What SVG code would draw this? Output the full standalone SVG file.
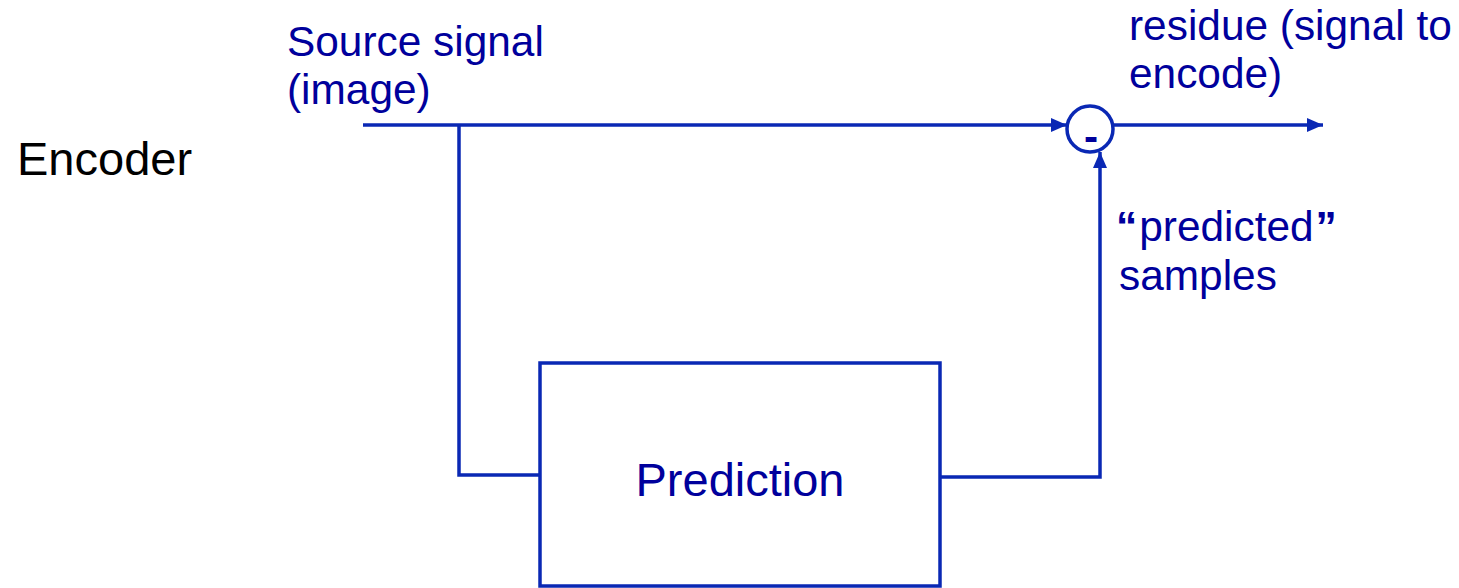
<svg xmlns="http://www.w3.org/2000/svg" width="1459" height="588" viewBox="0 0 1459 588">
<style>
.ln{fill:none;stroke:#0a28b4;stroke-width:3.5}
.lbl{font-family:"Liberation Sans",Arial,sans-serif;font-size:42.4px;fill:#00009c}
.big{font-family:"Liberation Sans",Arial,sans-serif;font-size:47px;fill:#00009c}
</style>
<defs>
<marker id="arr" markerUnits="userSpaceOnUse" markerWidth="18" markerHeight="16" refX="16" refY="7" orient="auto">
<path d="M0,0 L16,7 L0,14 Z" fill="#0a28b4"/>
</marker>
</defs>
<rect width="1459" height="588" fill="#ffffff"/>
<g id="encoder-label">
<text x="17" y="175" font-family="Liberation Sans,Arial,sans-serif" font-size="47" fill="#000000">Encoder</text>
</g>
<g id="source-label">
<text class="lbl" x="287" y="56">Source signal</text>
<text class="lbl" x="287" y="104">(image)</text>
</g>
<g id="residue-label">
<text class="lbl" x="1129" y="40">residue (signal to</text>
<text class="lbl" x="1129" y="88">encode)</text>
</g>
<g id="predicted-label">
<text class="lbl" x="1116" y="241"><tspan font-weight="bold">“</tspan><tspan dx="2">predicted</tspan><tspan dx="2" font-weight="bold">”</tspan></text>
<text class="lbl" x="1119" y="290">samples</text>
</g>
<g id="prediction">
<rect class="ln" x="540" y="363" width="400" height="223"/>
<text class="big" x="740" y="496" text-anchor="middle">Prediction</text>
</g>
<g id="subtractor">
<circle class="ln" cx="1090" cy="129" r="23"/>
<text class="lbl" x="1091" y="151" text-anchor="middle" font-weight="bold">-</text>
</g>
<g id="connectors">
<line class="ln" x1="363" y1="125" x2="1067" y2="125" marker-end="url(#arr)"/>
<line class="ln" x1="1113" y1="125" x2="1323" y2="125" marker-end="url(#arr)"/>
<polyline class="ln" points="459,125 459,475 540,475"/>
<polyline class="ln" points="940,477 1100,477 1100,152" marker-end="url(#arr)"/>
</g>
</svg>
